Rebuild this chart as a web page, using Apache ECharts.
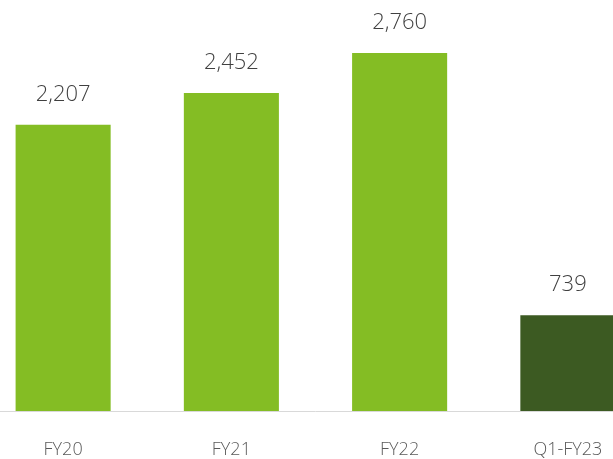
<!DOCTYPE html>
<html>
<head>
<meta charset="utf-8">
<script src="https://cdn.jsdelivr.net/npm/echarts@6/dist/echarts.min.js"></script>
<style>
  html, body { margin: 0; padding: 0; background: #fff; overflow: hidden; width: 613px; height: 459px; }
  #chart { position: absolute; left: -21px; top: 0; width: 673px; height: 459px; }
</style>
</head>
<body>
<div id="chart"></div>
<script>
// Yearly totals, last period is a single quarter
const categories = ['FY20', 'FY21', 'FY22', 'Q1-FY23'];
const values = [2207, 2452, 2760, 739];
const barColors = ['#84BD24', '#84BD24', '#84BD24', '#3C5A22'];

const chart = echarts.init(document.getElementById('chart'), null, { renderer: 'canvas' });

chart.setOption({
  animation: false,
  backgroundColor: '#ffffff',
  grid: { left: 0, right: 0, top: 22, bottom: 48, containLabel: false },
  xAxis: {
    type: 'category',
    data: categories,
    axisLine: { show: true, lineStyle: { color: '#D9D9D9', width: 1 } },
    axisTick: { show: false },
    axisLabel: {
      color: '#595959',
      fontFamily: 'Open Sans',
      fontWeight: 300,
      fontSize: 18,
      margin: 30
    }
  },
  yAxis: {
    type: 'value',
    min: 0,
    max: 3000,
    show: false,
    splitLine: { show: false }
  },
  series: [{
    type: 'bar',
    barWidth: '56.5%',
    data: values.map((v, i) => ({ value: v, itemStyle: { color: barColors[i] } })),
    label: {
      show: true,
      position: 'top',
      distance: 19,
      color: '#404040',
      fontFamily: 'Open Sans',
      fontWeight: 300,
      fontSize: 22,
      formatter: p => p.value.toLocaleString('en-US')
    }
  }]
});
</script>
</body>
</html>
